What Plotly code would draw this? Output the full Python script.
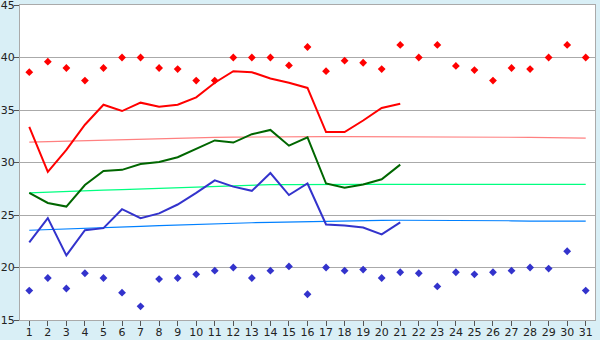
import plotly.graph_objects as go

days = list(range(1, 32))
rec_max = [38.6, 39.6, 39.0, 37.8, 39.0, 40.0, 40.0, 39.0, 38.9, 37.8, 37.8, 40.0, 40.0, 40.0, 39.25, 41.0,
           38.7, 39.7, 39.5, 38.9, 41.2, 40.0, 41.2, 39.2, 38.8, 37.8, 39.0, 38.9, 40.0, 41.2, 40.0]
rec_min = [17.8, 19.0, 18.0, 19.45, 19.0, 17.6, 16.3, 18.9, 19.0, 19.35, 19.7, 20.0, 19.0, 19.7, 20.1, 17.45,
           20.0, 19.7, 19.8, 19.0, 19.55, 19.45, 18.2, 19.55, 19.35, 19.55, 19.7, 20.0, 19.9, 21.55, 17.8]
tmax = [33.4, 29.1, 31.2, 33.6, 35.5, 34.9, 35.7, 35.3, 35.5, 36.2, 37.6, 38.7, 38.6, 38.0, 37.6, 37.1,
        32.9, 32.9, 34.0, 35.2, 35.6]
tmean = [27.1, 26.15, 25.8, 27.85, 29.2, 29.3, 29.85, 30.05, 30.5, 31.3, 32.1, 31.9, 32.7, 33.1, 31.6, 32.4,
         28.0, 27.6, 27.9, 28.4, 29.8]
tmin = [22.4, 24.7, 21.15, 23.55, 23.75, 25.55, 24.7, 25.15, 26.0, 27.1, 28.3, 27.7, 27.3, 29.0, 26.9, 28.0,
        24.1, 24.0, 23.8, 23.15, 24.3]
norm_max = [31.95, 32.0, 32.05, 32.1, 32.15, 32.2, 32.22, 32.28, 32.33, 32.37, 32.4, 32.42, 32.44, 32.45, 32.46,
            32.46, 32.46, 32.46, 32.46, 32.46, 32.46, 32.46, 32.46, 32.46, 32.46, 32.45, 32.43, 32.4, 32.37, 32.34, 32.32]
norm_mean = [27.1, 27.18, 27.24, 27.3, 27.36, 27.42, 27.48, 27.54, 27.6, 27.68, 27.74, 27.8, 27.85, 27.9, 27.9,
             27.92, 27.92, 27.92, 27.92, 27.92, 27.92, 27.92, 27.92, 27.92, 27.92, 27.92, 27.92, 27.92, 27.92, 27.92, 27.92]
norm_min = [23.55, 23.6, 23.65, 23.72, 23.78, 23.85, 23.92, 23.98, 24.05, 24.12, 24.18, 24.22, 24.26, 24.3, 24.34,
            24.37, 24.4, 24.43, 24.46, 24.48, 24.5, 24.5, 24.5, 24.5, 24.5, 24.5, 24.45, 24.42, 24.42, 24.42, 24.42]
x_ticks = [str(d) for d in days]
y_ticks = [15, 20, 25, 30, 35, 40, 45]

fig = go.Figure()
fig.add_trace(go.Scatter(x=days, y=norm_max, mode="lines", line=dict(color="#ff8080", width=1.2)))
fig.add_trace(go.Scatter(x=days, y=norm_mean, mode="lines", line=dict(color="#00ff80", width=1.2)))
fig.add_trace(go.Scatter(x=days, y=norm_min, mode="lines", line=dict(color="#0080ff", width=1.2)))
fig.add_trace(go.Scatter(x=days[:len(tmax)], y=tmax, mode="lines", line=dict(color="#ff0000", width=2)))
fig.add_trace(go.Scatter(x=days[:len(tmean)], y=tmean, mode="lines", line=dict(color="#006600", width=2)))
fig.add_trace(go.Scatter(x=days[:len(tmin)], y=tmin, mode="lines", line=dict(color="#3333cc", width=2)))
fig.add_trace(go.Scatter(x=days, y=rec_max, mode="markers",
                         marker=dict(symbol="diamond", size=6, color="#ff0000")))
fig.add_trace(go.Scatter(x=days, y=rec_min, mode="markers",
                         marker=dict(symbol="diamond", size=6, color="#3333cc")))

fig.update_layout(
    width=600, height=340,
    margin=dict(l=20, r=5, t=5, b=20),
    paper_bgcolor="#d9eff6",
    plot_bgcolor="#ffffff",
    showlegend=False,
    font=dict(family="DejaVu Sans", size=11, color="#222222"),
)
fig.update_xaxes(range=[0.5, 31.5], tickmode="array", tickvals=days, ticktext=x_ticks,
                 showgrid=False, zeroline=False, showline=True, linecolor="#aaaaaa", linewidth=1,
                 mirror=True, ticks="outside", ticklen=5, tickcolor="#555555", automargin=False,
                 ticklabelstandoff=-3, ticklabeloverflow="allow", tickfont=dict(size=11))
fig.update_yaxes(range=[15, 45], tickmode="array", tickvals=y_ticks,
                 showgrid=True, gridcolor="#aaaaaa", gridwidth=1, zeroline=False,
                 showline=True, linecolor="#aaaaaa", linewidth=1, mirror=True,
                 ticks="outside", ticklen=5, tickcolor="#555555", automargin=False,
                 ticklabelstandoff=-3, ticklabeloverflow="allow", tickfont=dict(size=11))

fig.write_html("out.html")
